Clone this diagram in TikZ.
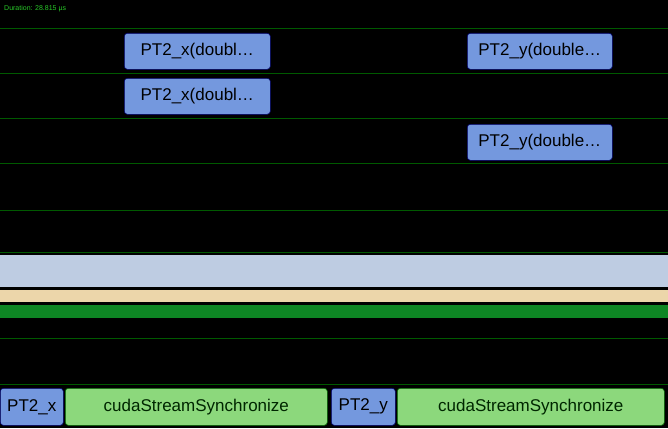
\documentclass[tikz,border=0pt]{standalone}
\usepackage{fontspec}
\setmainfont{Liberation Sans}
\definecolor{durc}{RGB}{40,200,40}
\definecolor{band1}{RGB}{190,204,226}
\definecolor{band2}{RGB}{236,214,170}
\definecolor{band3}{RGB}{14,134,36}
\definecolor{kb}{RGB}{116,152,222}
\definecolor{kg}{RGB}{140,216,124}
\begin{document}
\begin{tikzpicture}[x=1pt,y=-1pt,
  rowline/.style={draw=green!35!black,line width=0.8pt},
  kblue/.style={draw=blue!40!black,fill=kb,rounded corners=3pt,line width=0.6pt,anchor=north west,inner sep=0pt,font=\fontsize{17}{17}\selectfont},
  kgreen/.style={draw=green!40!black,fill=kg,rounded corners=3pt,line width=0.6pt,anchor=north west,inner sep=0pt,text=green!15!black,font=\fontsize{17}{17}\selectfont}]
\fill[black] (0,0) rectangle (668,428);
\useasboundingbox (0,0) rectangle (668,428);
\node[anchor=north west,text=durc,font=\fontsize{7}{7}\selectfont,inner sep=0pt] (dur) at (4,5) {Duration: 28.815 µs};
\foreach \y in {28,73,118,163,210,252,338,384} \draw[rowline] (0,\y) -- (668,\y);
\fill[band1] (0,255) rectangle (668,287);
\fill[band2] (0,290) rectangle (668,302);
\fill[band3] (0,305) rectangle (668,318);
\node[kblue,minimum width=146,minimum height=36] (a1) at (124,33) {PT2\_x(doubl…};
\node[kblue,minimum width=146,minimum height=36] (a2) at (124,78) {PT2\_x(doubl…};
\node[kblue,minimum width=145,minimum height=36] (b1) at (467,33) {PT2\_y(double…};
\node[kblue,minimum width=145,minimum height=36] (b2) at (467,124) {PT2\_y(double…};
\node[kblue,minimum width=63,minimum height=37] (c1) at (0,388) {PT2\_x};
\node[kgreen,minimum width=262,minimum height=37] (c2) at (65,388) {cudaStreamSynchronize};
\node[kblue,minimum width=64,minimum height=37] (c3) at (331,388) {PT2\_y};
\node[kgreen,minimum width=267,minimum height=37] (c4) at (397,388) {cudaStreamSynchronize};
\end{tikzpicture}
\end{document}
